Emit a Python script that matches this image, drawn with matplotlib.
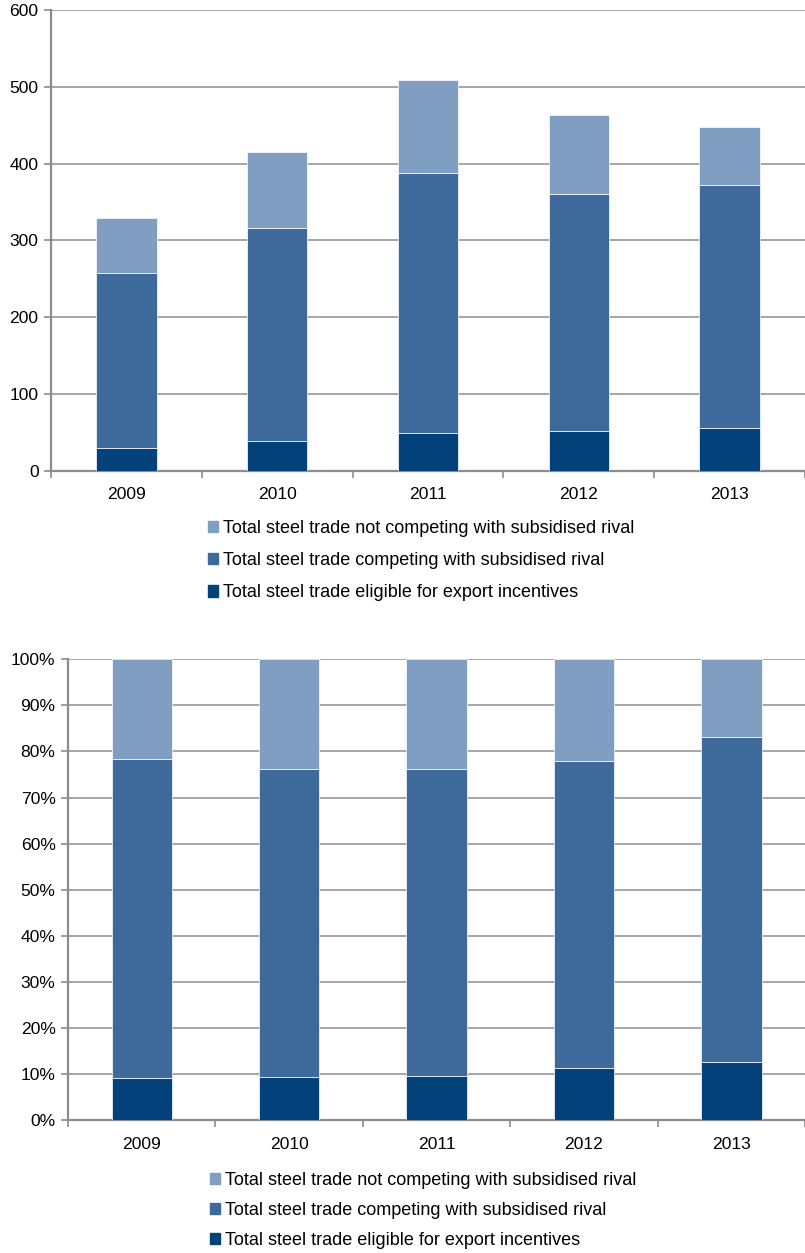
import matplotlib
matplotlib.use("Agg")
import matplotlib.pyplot as plt
from matplotlib.patches import Patch
from matplotlib.ticker import MultipleLocator, PercentFormatter
import numpy as np

years = ["2009", "2010", "2011", "2012", "2013"]
eligible = [30, 39, 49, 52, 56]
competing = [228, 277, 339, 309, 316]
not_competing = [71, 99, 121, 102, 76]

labels = [
    "Total steel trade not competing with subsidised rival",
    "Total steel trade competing with subsidised rival",
    "Total steel trade eligible for export incentives",
]
c_light = "#809DC2"
c_mid = "#3D6A9B"
c_dark = "#02417A"

plt.rcParams['font.family'] = ['Liberation Sans', 'DejaVu Sans']
FS = 12.6
LFS = 13.0
grid_c = "#A6A6A6"
spine_c = "#8C8C8C"

fig = plt.figure(figsize=(8.05, 12.53), dpi=100)

def style(ax, n):
    ax.set_xlim(0, n)
    ax.set_xticks(np.arange(n) + 0.5)
    ax.set_xticklabels(years, fontsize=FS)
    ax.set_xticks(np.arange(n + 1), minor=True)
    ax.tick_params(axis='x', which='major', length=0, pad=12)
    ax.tick_params(axis='x', which='minor', length=5, width=1.2, color=spine_c, direction='out')
    ax.tick_params(axis='y', length=5, width=1.2, color=spine_c, labelsize=FS, pad=4)
    for s in ['top', 'right']:
        ax.spines[s].set_visible(False)
    for s in ['left', 'bottom']:
        ax.spines[s].set_color(spine_c)
        ax.spines[s].set_linewidth(1.6)
    ax.yaxis.grid(True, color=grid_c, linewidth=1.4)
    ax.set_axisbelow(True)

def draw(ax, a, b, c, width):
    x = np.arange(len(years)) + 0.5
    ax.bar(x, a, width, color=c_dark, edgecolor='white', linewidth=0.5, zorder=3)
    ax.bar(x, b, width, bottom=a, color=c_mid, edgecolor='white', linewidth=0.5, zorder=3)
    ax.bar(x, c, width, bottom=np.array(a) + np.array(b), color=c_light,
           edgecolor='white', linewidth=0.5, zorder=3)

def legend(x_left, y_top, spacing):
    handles = [Patch(color=c_light), Patch(color=c_mid), Patch(color=c_dark)]
    fig.legend(handles, labels, loc='upper left', bbox_to_anchor=(x_left, y_top),
               frameon=False, fontsize=LFS, handlelength=0.58, handleheight=0.58,
               handletextpad=0.25, labelspacing=spacing, borderaxespad=0, borderpad=0)

# Top chart
ax1 = fig.add_axes([0.0634, 0.6243, 0.9366, 0.3677])
draw(ax1, eligible, competing, not_competing, 0.40)
style(ax1, len(years))
ax1.set_ylim(0, 600)
ax1.yaxis.set_major_locator(MultipleLocator(100))
legend(208 / 805, 1 - 520 / 1253, 0.84)

# Bottom chart (percent shares)
tot = np.array(eligible) + np.array(competing) + np.array(not_competing)
p_el = np.array(eligible) / tot * 100
p_co = np.array(competing) / tot * 100
p_nc = np.array(not_competing) / tot * 100
ax2 = fig.add_axes([0.0845, 0.1061, 0.9155, 0.3677])
draw(ax2, p_el, p_co, p_nc, 0.41)
style(ax2, len(years))
ax2.set_ylim(0, 100)
ax2.yaxis.set_major_locator(MultipleLocator(10))
ax2.yaxis.set_major_formatter(PercentFormatter(decimals=0))
legend(210 / 805, 1 - 1172 / 1253, 0.72)

fig.savefig("out.png", dpi=100)
